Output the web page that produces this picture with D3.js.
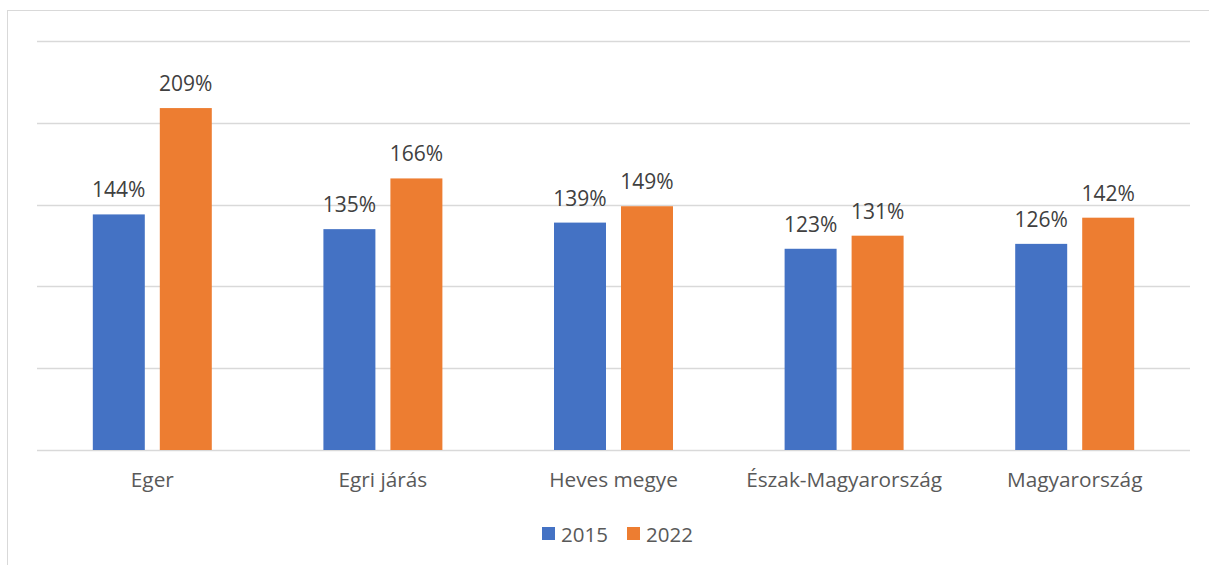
<!DOCTYPE html>
<html>
<head>
  <meta charset="UTF-8">
  <title>2015 / 2022</title>
  <script src="https://d3js.org/d3.v7.min.js"></script>
  <style>
    body { margin: 0; background: #fff; }
    text { font-family: "Open Sans", "Noto Sans", sans-serif; }
  </style>
</head>
<body>
  <div id="chart"></div>
  <script>
    // Data
    const categories = ["Eger", "Egri járás", "Heves megye", "Észak-Magyarország", "Magyarország"];
    const seriesNames = ["2015", "2022"];
    const values2015 = [144, 135, 139, 123, 126];
    const values2022 = [209, 166, 149, 131, 142];
    const yTicks = [0, 50, 100, 150, 200, 250];
    const colors = ["#4472C4", "#ED7D31"];

    const W = 1209, H = 565;
    const plot = { left: 37, right: 1190, top: 41, bottom: 450 };

    const svg = d3.select("#chart").append("svg")
      .attr("width", W).attr("height", H);

    // chart frame (right and bottom edges run off the page)
    svg.append("rect")
      .attr("x", 7.5).attr("y", 10.5)
      .attr("width", W + 10).attr("height", H + 10)
      .attr("fill", "#fff").attr("stroke", "#d9d9d9").attr("stroke-width", 1);

    const x0 = d3.scaleBand().domain(categories).range([plot.left, plot.right]);
    const x1 = d3.scaleBand().domain(seriesNames)
      .range([0, x0.bandwidth()])
      .paddingInner(0.224).paddingOuter(0.833);
    const y = d3.scaleLinear().domain([0, 250]).range([plot.bottom, plot.top]);

    // gridlines
    svg.append("g")
      .selectAll("line")
      .data(yTicks)
      .join("line")
      .attr("x1", plot.left).attr("x2", plot.right)
      .attr("y1", d => Math.round(y(d)) + 0.5)
      .attr("y2", d => Math.round(y(d)) + 0.5)
      .attr("stroke", "#d9d9d9")
      .attr("stroke-width", d => d === 0 ? 1.6 : 1.3);

    const rows = categories.map((c, i) => ({
      cat: c,
      vals: [
        { s: seriesNames[0], v: values2015[i], k: 0 },
        { s: seriesNames[1], v: values2022[i], k: 1 }
      ]
    }));

    const groups = svg.append("g")
      .selectAll("g")
      .data(rows)
      .join("g")
      .attr("transform", d => `translate(${x0(d.cat)},0)`);

    groups.selectAll("rect")
      .data(d => d.vals)
      .join("rect")
      .attr("x", d => x1(d.s))
      .attr("y", d => y(d.v))
      .attr("width", x1.bandwidth())
      .attr("height", d => y(0) - y(d.v))
      .attr("fill", d => colors[d.k]);

    // value labels
    groups.selectAll("text")
      .data(d => d.vals)
      .join("text")
      .attr("x", d => x1(d.s) + x1.bandwidth() / 2)
      .attr("y", d => y(d.v) - 17)
      .attr("text-anchor", "middle")
      .attr("font-size", 21)
      .attr("fill", "#404040")
      .text(d => d.v + "%");

    // category labels
    svg.append("g")
      .selectAll("text")
      .data(categories)
      .join("text")
      .attr("x", d => x0(d) + x0.bandwidth() / 2)
      .attr("y", 487)
      .attr("text-anchor", "middle")
      .attr("font-size", 20.8)
      .attr("fill", "#595959")
      .text(d => d);

    // legend
    const legendX = [542, 627];
    const legend = svg.append("g")
      .selectAll("g")
      .data(seriesNames)
      .join("g")
      .attr("transform", (d, i) => `translate(${legendX[i]},527)`);
    legend.append("rect")
      .attr("width", 13).attr("height", 13)
      .attr("fill", (d, i) => colors[i]);
    legend.append("text")
      .attr("x", 19).attr("y", 14.5)
      .attr("font-size", 20.5)
      .attr("fill", "#595959")
      .text(d => d);
  </script>
</body>
</html>
